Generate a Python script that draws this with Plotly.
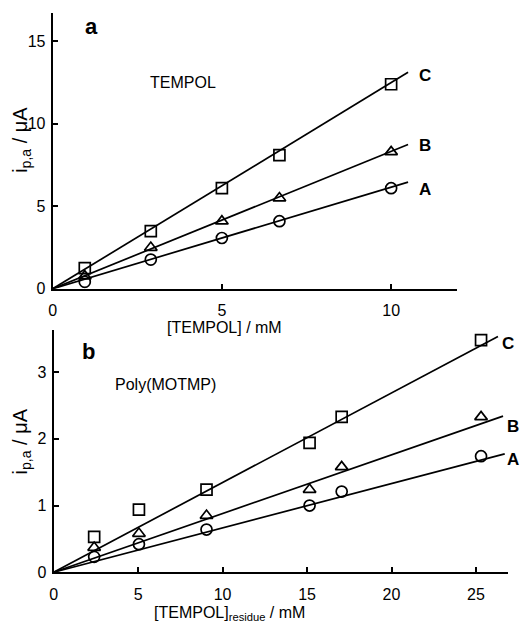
import plotly.graph_objects as go

W, H = 520, 630

# ---- Panel a: TEMPOL ----
conc_a = [0.95, 2.9, 5.0, 6.7, 10.0]
ipa_a_A = [0.42, 1.77, 3.08, 4.1, 6.1]
ipa_a_B = [0.77, 2.5, 4.1, 5.5, 8.3]
ipa_a_C = [1.25, 3.5, 6.1, 8.1, 12.4]
fit_slope_a = {"A": 0.616, "B": 0.833, "C": 1.25}
fit_end_a = {"A": 10.5, "B": 10.5, "C": 10.5}

# ---- Panel b: Poly(MOTMP) ----
conc_b = [2.4, 5.05, 9.05, 15.15, 17.05, 25.3]
ipa_b_A = [0.23, 0.42, 0.64, 1.0, 1.21, 1.74]
ipa_b_B = [0.37, 0.58, 0.85, 1.24, 1.58, 2.33]
ipa_b_C = [0.53, 0.94, 1.24, 1.94, 2.33, 3.48]
fit_slope_b = {"A": 0.0665, "B": 0.088, "C": 0.1345}
fit_end_b = {"A": 26.7, "B": 26.6, "C": 26.3}

series_names = ["A", "B", "C"]
symbols = {"A": "circle-open", "B": "triangle-up-open", "C": "square-open"}

ticks_a_x = [0, 5, 10]
ticks_a_y = [0, 5, 10, 15]
ticks_b_x = [0, 5, 10, 15, 20, 25]
ticks_b_y = [0, 1, 2, 3]

fig = go.Figure()

data_a = {"A": ipa_a_A, "B": ipa_a_B, "C": ipa_a_C}
data_b = {"A": ipa_b_A, "B": ipa_b_B, "C": ipa_b_C}

for s in series_names:
    fig.add_trace(go.Scatter(x=[0, fit_end_a[s]], y=[0, fit_slope_a[s] * fit_end_a[s]],
                             mode="lines", line=dict(color="black", width=1.7),
                             xaxis="x", yaxis="y", showlegend=False, hoverinfo="skip"))
    fig.add_trace(go.Scatter(x=conc_a, y=data_a[s], mode="markers",
                             marker=dict(symbol=symbols[s], size=11, color="black",
                                         line=dict(width=1.7, color="black")),
                             xaxis="x", yaxis="y", showlegend=False, name=s))
    fig.add_trace(go.Scatter(x=[0, fit_end_b[s]], y=[0, fit_slope_b[s] * fit_end_b[s]],
                             mode="lines", line=dict(color="black", width=1.7),
                             xaxis="x2", yaxis="y2", showlegend=False, hoverinfo="skip"))
    fig.add_trace(go.Scatter(x=conc_b, y=data_b[s], mode="markers",
                             marker=dict(symbol=symbols[s], size=11, color="black",
                                         line=dict(width=1.7, color="black")),
                             xaxis="x2", yaxis="y2", showlegend=False, name=s))

FONT = "Liberation Sans, Arial, sans-serif"
tickfont = dict(family=FONT, size=16, color="black")

def px(x):
    return x / W

def py(y):
    return 1 - y / H

axis_common = dict(showgrid=False, zeroline=False, showline=True, linecolor="black",
                   linewidth=1.8, ticks="inside", ticklen=5, tickwidth=1.5,
                   tickcolor="black", tickfont=tickfont, fixedrange=True)

fig.update_layout(
    width=W, height=H, margin=dict(l=0, r=0, t=0, b=0),
    paper_bgcolor="white", plot_bgcolor="white",
    xaxis=dict(domain=[px(49), px(457)], range=[0, 11.96], anchor="y",
               tickvals=ticks_a_x, ticklabelstandoff=6, **axis_common),
    yaxis=dict(domain=[py(293), py(13)], range=[0, 16.73], anchor="x",
               tickvals=ticks_a_y, ticklabelstandoff=2, **axis_common),
    xaxis2=dict(domain=[px(50), px(508)], range=[0, 26.9], anchor="y2",
                tickvals=ticks_b_x, ticklabelstandoff=7, **axis_common),
    yaxis2=dict(domain=[py(580.5), py(335)], range=[0, 3.63], anchor="x2",
                tickvals=ticks_b_y, ticklabelstandoff=2, **axis_common),
)

ann = []
lab_font = dict(family=FONT, size=17, color="black")
# series labels (paper coords, computed from panel axes)
lab_a_y = {"A": 192.5, "B": 148, "C": 77}
for s in series_names:
    ann.append(dict(x=px(424), y=py(lab_a_y[s]), xref="paper", yref="paper",
                    text="<b>" + s + "</b>", showarrow=False, font=lab_font,
                    xanchor="center", yanchor="middle"))
lab_b_x = {"A": 513, "B": 513, "C": 508}
lab_b_y = {"A": 466, "B": 433, "C": 348}
for s in series_names:
    ann.append(dict(x=px(lab_b_x[s]), y=py(lab_b_y[s]), xref="paper", yref="paper",
                    text="<b>" + s + "</b>", showarrow=False, font=lab_font,
                    xanchor="center", yanchor="middle"))

def A(x, y, text, size, angle=0):
    return dict(x=px(x), y=py(y), xref="paper", yref="paper", text=text, showarrow=False,
                textangle=angle, xanchor="center", yanchor="middle",
                font=dict(family=FONT, size=size, color="black"))

ann += [
    A(88, 27, "<b>a</b>", 22),
    A(85, 357, "<b>b</b>", 22),
    A(180, 84, "TEMPOL", 16),
    A(163, 390, "Poly(MOTMP)", 16),
    A(222, 332, "[TEMPOL] / mM", 16),
    A(227, 622, "[TEMPOL]<sub>residue</sub> / mM", 16),
    A(18, 142, "i<sub>p,a</sub> / μA", 20, -90),
    A(18, 448, "i<sub>p,a</sub> / μA", 20, -90),
]
fig.update_layout(annotations=ann)

fig.write_html("out.html")
